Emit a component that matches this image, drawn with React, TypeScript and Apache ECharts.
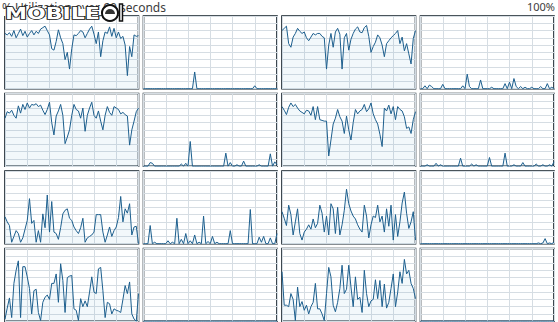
import React, { useEffect, useRef } from "react";
import * as echarts from "echarts";

// ---- Data: % utilization per logical processor, one value per second (61 samples) ----
const cpu0 = [76,74,77,72,80,70,76,82,73,79,71,76,80,74,79,76,82,84,86,80,74,55,53,65,81,70,62,40,50,27,55,74,73,76,80,78,70,76,82,86,75,62,78,44,66,78,76,85,72,83,70,78,69,72,60,18,58,44,74,72,73];
const cpu1 = [0,0,0,0,0,0,0,0,0,0, 0,0,0,0,0,0,0,0,0,0, 0,0,0,23,0,0,0,0,0,0, 0,0,0,0,0,0,0,0,0,0, 0,0,0,0,0,0,0,0,0,0, 4,0,0,0,0,0,0,0,0,0, 0];
const cpu2 = [80,83,86,62,57,71,76,83,79,76,78,70,66,71,76,74,76,76,72,70,27,60,76,57,78,83,75,27,70,76,53,68,76,82,85,78,77,84,87,72,50,58,64,74,70,60,44,62,66,70,73,76,80,62,71,52,62,48,34,69,80];
const cpu3 = [0,0,4,0,5,3,0,0,0,0, 6,0,0,0,0,0,0,0,0,4, 0,20,3,0,0,0,0,12,0,0, 0,0,2,0,0,0,0,0,7,0, 9,0,14,3,0,3,0,2,0,0, 2,0,0,0,3,0,0,7,0,2, 0];
const cpu4 = [66,75,73,77,70,66,83,73,85,78,87,80,85,84,86,82,84,77,71,78,88,60,43,69,76,85,70,31,40,50,70,85,78,76,66,80,48,70,80,88,70,66,76,62,50,70,82,74,70,82,80,78,72,74,71,69,29,50,62,75,80];
const cpu5 = [0,0,0,5,4,0,0,0,0,0, 0,0,0,0,0,0,0,3,0,4, 0,34,0,0,0,0,0,0,0,0, 0,0,0,0,0,0,0,18,0,5, 0,0,2,0,0,7,0,0,0,0, 0,0,2,0,0,0,0,17,0,6, 2];
const cpu6 = [82,77,71,81,87,82,85,80,76,74,72,77,76,70,82,64,82,64,63,62,62,14,36,58,66,78,68,62,45,69,50,36,60,78,72,76,78,85,75,79,87,72,64,58,44,27,80,76,84,72,82,64,82,78,76,68,52,54,45,64,75];
const cpu7 = [0,0,0,2,0,0,0,4,0,2, 0,0,0,0,0,0,0,0,11,0, 0,0,0,3,0,2,0,0,0,0, 0,12,0,0,0,0,0,0,18,0, 0,0,2,0,0,0,5,0,0,0, 0,0,3,0,0,2,0,0,2,0, 6];
const cpu8 = [37,30,25,2,10,18,14,2,8,20,32,62,28,32,2,18,2,41,22,67,16,58,16,14,6,22,41,46,48,35,32,23,18,14,22,35,2,8,10,12,16,40,40,40,16,2,12,23,10,18,23,36,65,30,48,42,55,12,23,24,0];
const cpu9 = [0,0,0,25,0,2,0,0,0,0, 0,4,0,2,0,35,0,6,0,14, 0,4,0,12,0,2,0,38,0,3, 0,10,0,2,0,0,0,0,0,18, 0,0,0,0,0,0,0,0,47,0, 0,0,9,2,10,0,0,8,0,0, 14];
const cpu10 = [44,35,25,53,40,12,30,48,14,5,16,20,26,20,34,22,28,53,42,16,38,12,55,48,14,50,12,26,46,75,55,45,38,34,26,20,16,53,38,8,26,38,36,53,30,38,16,48,24,53,5,40,10,30,56,71,42,21,30,44,5];
const cpu11 = [0,0,0,0,0,0,0,0,0,0, 0,0,0,0,0,0,0,0,0,0, 0,0,0,0,0,0,0,0,0,0, 0,0,0,0,0,0,0,0,0,0, 0,0,0,0,0,0,0,0,0,0, 0,0,0,1,0,1,7,0,1,0, 2];
const cpu12 = [3,18,32,5,52,70,83,5,75,75,61,45,10,42,44,12,1,26,33,36,30,52,52,65,26,79,56,12,60,62,63,17,15,1,31,20,28,20,40,61,40,38,72,74,42,5,26,24,10,17,15,14,12,30,49,38,54,10,3,0,38];
const cpu13 = [0,0,0,0,0,0,0,0,0,0, 0,0,0,0,0,0,0,0,0,0, 0,0,0,0,0,0,0,0,0,0, 0,0,0,0,0,0,0,0,0,0, 0,0,0,0,0,0,0,0,0,0, 0,0,0,0,0,0,0,0,0,0, 0];
const cpu14 = [68,22,22,20,38,30,1,47,20,27,15,22,10,20,26,52,17,17,10,1,38,74,61,22,13,26,45,77,38,44,77,47,20,61,30,33,12,70,38,20,28,30,57,31,56,20,51,18,26,45,65,20,40,68,52,85,65,70,52,45,31];
const cpu15 = [0,0,0,0,0,0,0,0,0,0, 0,0,0,0,0,0,0,0,0,0, 0,0,0,0,0,0,0,0,0,0, 0,0,0,0,0,0,0,0,0,0, 0,0,0,0,0,0,0,0,0,0, 0,0,0,0,0,0,0,0,0,0, 0];

const TITLE = "% Utilization over 60 seconds";
const MAX_LABEL = "100%";
const SECONDS_MAX = 60;
const PCT_MAX = 100;

// ---- Layout / style ----
const W = 558;
const H = 322;
const COL_LEFT = 5;
const COL_STEP = 138.5;
const PANEL_W = 133.5;
const ROW_TOP = 16;
const ROW_STEP = 77.5;
const PANEL_H = 72.7;
const BORDER = "#0f1c26";
const LINE = "#1d5f8e";
const FILL = "rgba(17,125,187,0.08)";
const GRID_LINE = "#d6dde3";
const FONT = '"Noto Sans", "Open Sans", sans-serif';

export default function App() {
  const ref = useRef<HTMLDivElement>(null);

  useEffect(() => {
    if (!ref.current) return;
    const chart = echarts.init(ref.current, null, { renderer: "svg" });
    const procs = [cpu0, cpu1, cpu2, cpu3, cpu4, cpu5, cpu6, cpu7, cpu8, cpu9, cpu10, cpu11, cpu12, cpu13, cpu14, cpu15];

    const grid = procs.map((_, i) => ({
      left: COL_LEFT + (i % 4) * COL_STEP,
      top: ROW_TOP + Math.floor(i / 4) * ROW_STEP,
      width: PANEL_W,
      height: PANEL_H,
      show: true,
      backgroundColor: "#ffffff",
      borderColor: BORDER,
      borderWidth: 1.6,
    }));
    const axisCommon = {
      axisLine: { show: false },
      axisTick: { show: false },
      axisLabel: { show: false },
      splitLine: { show: true, lineStyle: { color: GRID_LINE, width: 1 } },
    };
    const xAxis = procs.map((_, i) => ({
      gridIndex: i, type: "value", min: 0, max: SECONDS_MAX, interval: 10, ...axisCommon,
    }));
    const yAxis = procs.map((_, i) => ({
      gridIndex: i, type: "value", min: 0, max: PCT_MAX, interval: 10, ...axisCommon,
    }));
    const series = procs.map((vals, i) => ({
      type: "line",
      xAxisIndex: i,
      yAxisIndex: i,
      data: vals.map((v, k) => [k, v]),
      showSymbol: false,
      symbol: "none",
      silent: true,
      lineStyle: { color: LINE, width: 1 },
      areaStyle: { color: FILL },
    }));

    chart.setOption({
      animation: false,
      backgroundColor: "#ffffff",
      grid,
      xAxis,
      yAxis,
      series,
      graphic: [
        {
          type: "text", left: 2, top: 1, z: 10,
          style: { text: TITLE, font: `12px ${FONT}`, fill: "#3c3c3c" },
        },
        {
          type: "text", right: 3, top: 1, z: 10,
          style: { text: MAX_LABEL, font: `11px ${FONT}`, fill: "#3c3c3c" },
        },
        { type: "rect", z: 11, shape: { x: 4, y: 9, width: 94, height: 7 }, style: { fill: "#ffffff" } },
        {
          type: "text", x: 5, y: 6, scaleX: 1.38, z: 12,
          style: { text: "MOBILE", font: 'bold 16px "DejaVu Sans"', fill: "#ffffff", stroke: "#111111", lineWidth: 1.6 },
        },
        { type: "circle", z: 12, shape: { cx: 110, cy: 13, r: 8 }, style: { fill: "#ffffff", stroke: "#111111", lineWidth: 2 } },
        { type: "sector", z: 13, shape: { cx: 110, cy: 14, r: 5, startAngle: Math.PI, endAngle: Math.PI * 2 }, style: { fill: "#333333" } },
        { type: "rect", z: 12, shape: { x: 119.5, y: 4, width: 3, height: 17 }, style: { fill: "#ffffff", stroke: "#111111", lineWidth: 1.5 } },
      ],
    });
    return () => chart.dispose();
  }, []);

  return (
    <div
      ref={ref}
      style={{ position: "fixed", left: 0, top: 0, width: W, height: H, background: "#fff" }}
    />
  );
}
